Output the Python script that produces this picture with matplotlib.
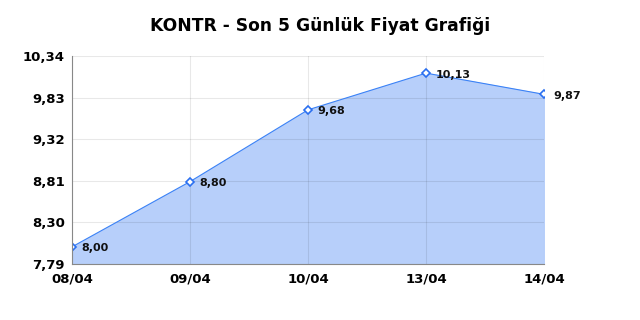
import matplotlib
matplotlib.use("Agg")
import matplotlib.pyplot as plt

dates = ["08/04", "09/04", "10/04", "13/04", "14/04"]
prices = [8.00, 8.80, 9.68, 10.13, 9.87]
yticks = [7.79, 8.30, 8.81, 9.32, 9.83, 10.34]
title = "KONTR - Son 5 Günlük Fiyat Grafiği"

def fmt(v):
    return f"{v:.2f}".replace(".", ",")

fig = plt.figure(figsize=(6.4, 3.2), dpi=100)
ax = fig.add_axes([0.1125, 0.175, 0.7375, 0.65])
x = list(range(len(dates)))
ax.fill_between(x, prices, yticks[0], color="#b7cffa", zorder=1)
ax.grid(True, color="#000000", alpha=0.09, lw=0.8, zorder=2)
ax.plot(x, prices, color="#3b82f6", lw=0.8, marker="D", markersize=4,
        markerfacecolor="white", markeredgecolor="#2a6ff0", markeredgewidth=1.2, zorder=3)
for xi, v in zip(x, prices):
    ax.annotate(fmt(v), (xi, v), xytext=(7, -1), textcoords="offset points",
                ha="left", va="center", fontsize=8, fontweight="bold", color="#111111")
ax.set_xlim(0, len(dates) - 1)
ax.set_ylim(yticks[0], yticks[-1])
ax.set_xticks(x)
ax.set_xticklabels(dates, fontsize=9.5, fontweight="bold")
ax.set_yticks(yticks)
ax.set_yticklabels([fmt(v) for v in yticks], fontsize=9.5, fontweight="bold")
ax.tick_params(axis="x", length=0, pad=6)
ax.tick_params(axis="y", length=0, pad=5)
ax.set_axisbelow(False)
for s in ["top", "right"]:
    ax.spines[s].set_visible(False)
for s in ["left", "bottom"]:
    ax.spines[s].set_color("#888888")
    ax.spines[s].set_linewidth(0.8)
    ax.spines[s].set_zorder(4)
fig.text(0.5, 0.92, title, ha="center", va="center", fontsize=12.3, fontweight="bold")
fig.savefig("out.png", dpi=100)
